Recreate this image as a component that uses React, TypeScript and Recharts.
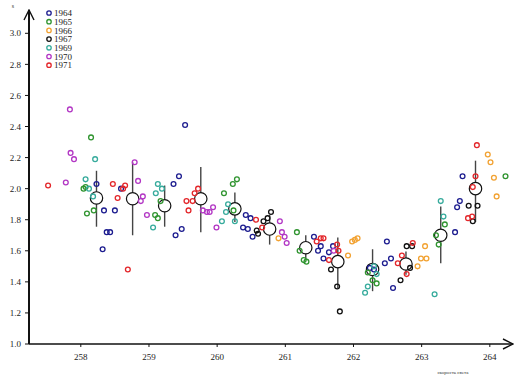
import React from 'react';
import { ScatterChart, Scatter, XAxis, YAxis, ErrorBar, ReferenceLine } from 'recharts';

type Pt = [number, number];

const years = ['1964', '1965', '1966', '1967', '1969', '1970', '1971'];
const colors = ['#1c1c8f', '#2f942f', '#f2a232', '#111111', '#36ab9c', '#b236c4', '#e3262a'];

const pts1964: Pt[] = [
  [258.23, 2.03], [258.34, 1.86], [258.5, 1.86], [258.38, 1.72], [258.43, 1.72], [258.32, 1.61],
  [258.59, 2.0], [259.36, 2.03], [259.44, 2.08], [259.53, 2.41], [259.39, 1.7], [259.48, 1.74],
  [260.42, 1.83], [260.49, 1.81], [260.38, 1.75], [260.45, 1.74], [260.52, 1.69], [261.42, 1.69],
  [261.52, 1.63], [261.48, 1.6], [261.7, 1.63], [261.64, 1.59], [261.56, 1.55], [262.49, 1.66],
  [262.46, 1.52], [262.55, 1.55], [262.58, 1.36], [262.24, 1.49], [262.3, 1.48], [263.49, 1.72],
  [263.52, 1.88], [263.56, 1.92], [263.6, 2.08],
];
const pts1965: Pt[] = [
  [258.15, 2.33], [258.04, 2.0], [258.07, 2.01], [258.09, 1.84], [258.19, 1.86], [259.17, 1.92],
  [259.09, 1.83], [259.13, 1.81], [260.29, 2.06], [260.23, 2.03], [260.1, 1.97], [260.24, 1.86],
  [261.17, 1.72], [261.21, 1.6], [261.27, 1.54], [261.31, 1.53], [262.21, 1.46], [262.28, 1.41],
  [262.34, 1.39], [263.25, 1.64], [263.34, 1.77], [263.21, 1.7], [264.23, 2.08],
];
const pts1966: Pt[] = [
  [260.9, 1.68], [261.98, 1.66], [262.02, 1.67], [262.06, 1.68], [261.92, 1.57], [263.05, 1.63],
  [262.99, 1.55], [263.07, 1.55], [262.94, 1.5], [263.97, 2.22], [264.01, 2.17], [264.06, 2.07],
  [264.1, 1.95],
];
const pts1967: Pt[] = [
  [260.79, 1.85], [260.74, 1.81], [260.68, 1.79], [260.58, 1.73], [260.6, 1.71], [261.67, 1.48],
  [261.76, 1.37], [261.8, 1.21], [262.78, 1.63], [262.86, 1.63], [262.69, 1.41], [262.83, 1.49],
  [263.69, 1.89], [263.82, 1.89], [263.75, 1.79],
];
const pts1969: Pt[] = [
  [258.07, 2.06], [258.21, 2.19], [258.12, 2.0], [258.18, 1.95], [259.13, 2.03], [259.19, 2.0],
  [259.1, 1.97], [259.06, 1.75], [260.16, 1.9], [260.13, 1.85], [260.07, 1.79], [260.26, 1.79],
  [262.17, 1.33], [262.21, 1.37], [262.3, 1.5], [262.34, 1.45], [263.28, 1.92], [263.32, 1.82],
  [263.19, 1.32],
];
const pts1970: Pt[] = [
  [257.84, 2.51], [257.85, 2.23], [257.9, 2.19], [257.78, 2.04], [258.79, 2.17], [258.84, 2.05],
  [258.91, 1.95], [258.88, 1.92], [258.97, 1.83], [259.79, 1.86], [259.85, 1.85], [259.89, 1.85],
  [259.94, 1.88], [259.99, 1.75], [260.92, 1.79], [260.95, 1.72], [260.99, 1.69], [261.02, 1.65],
  [261.71, 1.6],
];
const pts1971: Pt[] = [
  [257.52, 2.02], [258.47, 2.03], [258.54, 1.94], [258.65, 2.02], [258.62, 2.0], [258.69, 1.48],
  [259.55, 1.92], [259.64, 1.92], [259.58, 1.86], [259.67, 1.97], [259.72, 2.0], [260.57, 1.8],
  [260.66, 1.75], [261.46, 1.66], [261.52, 1.68], [261.56, 1.68], [261.78, 1.6], [261.76, 1.64],
  [261.64, 1.54], [262.71, 1.57], [262.65, 1.52], [262.87, 1.65], [262.78, 1.45], [263.81, 2.28],
  [263.79, 2.08], [263.75, 2.01], [263.68, 1.81], [263.74, 1.82],
];

// group means with their spread
const meanX = [258.23, 258.76, 259.23, 259.76, 260.26, 260.77, 261.3, 261.77, 262.28, 262.77, 263.28, 263.79];
const meanY = [1.94, 1.935, 1.89, 1.935, 1.87, 1.74, 1.62, 1.53, 1.48, 1.515, 1.7, 2.0];
const meanLow = [1.755, 1.7, 1.755, 1.72, 1.785, 1.64, 1.54, 1.36, 1.34, 1.445, 1.52, 1.785];
const meanHigh = [2.115, 2.17, 2.02, 2.14, 1.975, 1.83, 1.7, 1.685, 1.61, 1.595, 1.885, 2.18];

const xTicks = [258, 259, 260, 261, 262, 263, 264];
const yTicks = [1.0, 1.2, 1.4, 1.6, 1.8, 2.0, 2.2, 2.4, 2.6, 2.8, 3.0];
const xMin = 257.24;
const yMax = 3.15;

const allPts = [pts1964, pts1965, pts1966, pts1967, pts1969, pts1970, pts1971];
const series = years.map((name, i) => ({
  name,
  color: colors[i],
  data: allPts[i].map(([x, y]) => ({ x, y })),
}));

const means = meanX.map((x, i) => ({
  x,
  y: meanY[i],
  err: [meanY[i] - meanLow[i], meanHigh[i] - meanY[i]],
}));

const FONT = '"Liberation Serif", "DejaVu Serif", serif';

const ring = (color: string) => (p: any) => (
  <circle cx={p.cx} cy={p.cy} r={2.4} fill="none" stroke={color} strokeWidth={1.3} />
);

const bigRing = (p: any) => (
  <circle cx={p.cx} cy={p.cy} r={6.2} fill="#fff" stroke="#111" strokeWidth={1.2} />
);

const noDot = () => <g />;

export default function App() {
  return (
    <div style={{ position: 'absolute', left: 0, top: 0, width: 525, height: 380, background: '#fff' }}>
      <ScatterChart
        width={525}
        height={380}
        margin={{ top: 10, right: 12, left: 0, bottom: 0 }}
        style={{ fontFamily: FONT }}
      >
        <defs>
          <marker
            id="arrowEnd"
            viewBox="0 0 12 12"
            refX="11"
            refY="6"
            markerWidth="12"
            markerHeight="12"
            markerUnits="userSpaceOnUse"
            orient="auto"
          >
            <path d="M1 1 L11 6 L1 11" fill="none" stroke="#111" strokeWidth={1.4} />
          </marker>
        </defs>
        <XAxis
          type="number"
          dataKey="x"
          domain={[xMin, 264.34]}
          ticks={xTicks}
          allowDataOverflow
          height={36}
          tickSize={3}
          tickMargin={7}
          axisLine={{ stroke: '#111', strokeWidth: 1.6, markerEnd: 'url(#arrowEnd)' }}
          tickLine={{ stroke: '#111' }}
          tick={{ fontSize: 9, fill: '#222', fontFamily: FONT }}
        />
        <YAxis
          type="number"
          dataKey="y"
          domain={[1, yMax]}
          ticks={yTicks}
          allowDataOverflow
          width={29}
          tickSize={4}
          tickMargin={4}
          tickFormatter={(v: number) => v.toFixed(1)}
          axisLine={{ stroke: '#111', strokeWidth: 1.8 }}
          tickLine={{ stroke: '#111' }}
          tick={{ fontSize: 9, fill: '#222', fontFamily: FONT }}
        />
        <ReferenceLine
          segment={[{ x: xMin, y: 1 }, { x: xMin, y: yMax }]}
          stroke="#111"
          strokeWidth={1.8}
          markerEnd="url(#arrowEnd)"
          ifOverflow="visible"
        />
        <Scatter name="spread" data={means} shape={noDot} isAnimationActive={false}>
          <ErrorBar dataKey="err" direction="y" width={0} stroke="#444" strokeWidth={1.4} />
        </Scatter>
        <Scatter name="mean" data={means} shape={bigRing} isAnimationActive={false} />
        {series.map((s) => (
          <Scatter key={s.name} name={s.name} data={s.data} shape={ring(s.color)} isAnimationActive={false} />
        ))}
        <text x={13} y={8} fontSize={6} fill="#333" fontFamily={FONT} textAnchor="middle">s</text>
        <text x={453} y={374} fontSize={5} fill="#333" fontFamily={FONT} textAnchor="middle">скорость света</text>
        {series.map((s, i) => (
          <g key={'lg' + s.name}>
            <circle cx={49} cy={13 + i * 8.7} r={2.2} fill="none" stroke={s.color} strokeWidth={1.3} />
            <text x={54} y={16.2 + i * 8.7} fontSize={9} fill="#222" fontFamily={FONT}>
              {s.name}
            </text>
          </g>
        ))}
      </ScatterChart>
    </div>
  );
}
